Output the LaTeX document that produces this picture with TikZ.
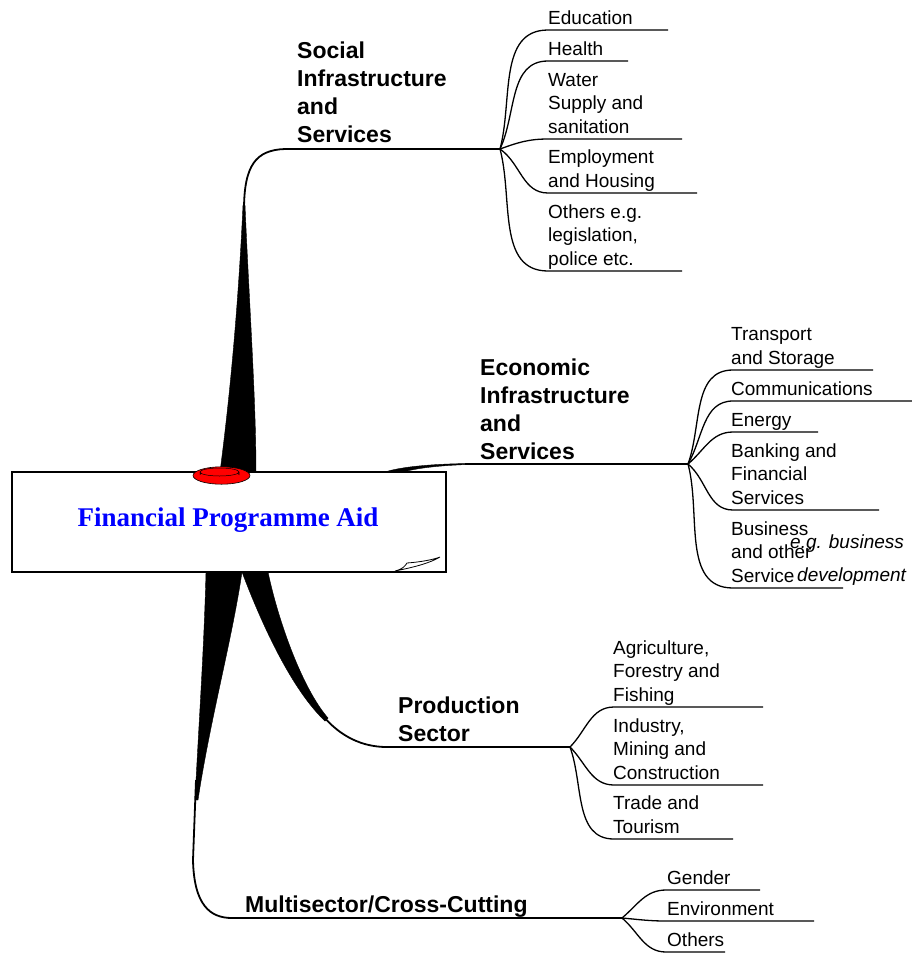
\documentclass[tikz,border=0pt]{standalone}
\usepackage{fontspec}
\setmainfont{Liberation Sans}
\newfontfamily\titlefont{Liberation Serif}
\tikzset{
  leaf/.style={anchor=base west, inner sep=0pt, align=left, font=\fontsize{19}{23.5}\selectfont},
  head/.style={anchor=base west, inner sep=0pt, align=left, font=\bfseries\fontsize{23}{28}\selectfont},
  twig/.style={line width=1.3pt},
  stem/.style={line width=1.8pt},
  wedge/.style={fill=black, draw=black, line width=0.4pt},
}
\begin{document}
\begin{tikzpicture}[x=1pt,y=-1pt]
  \useasboundingbox (0,0) rectangle (912,954);

  % hubs
  \coordinate (soc-in) at (285,149);
  \coordinate (soc) at (500,149);
  \coordinate (eco-in) at (465,464);
  \coordinate (eco) at (688,464);
  \coordinate (pro-in) at (385,747);
  \coordinate (pro) at (570,747);
  \coordinate (mul-in) at (232,918);
  \coordinate (mul) at (622,918);

  % thick branches, behind the box
  \fill[wedge] (220,472) .. controls (232,380) and (239,290) .. (243,205)
     -- (245,205) .. controls (249,300) and (256,400) .. (256,472) -- cycle;
  \draw[stem] (soc) -- (soc-in) .. controls (256,150) and (244,165) .. (244,210) -- (244,240);

  \fill[wedge] (385,472) .. controls (400,467) and (430,464) .. (468,463.5)
     -- (468,464.5) .. controls (440,465.5) and (415,468) .. (400,473) -- cycle;
  \draw[stem] (eco) -- (eco-in);

  \fill[wedge] (242,572) .. controls (262,625) and (292,690) .. (325,721)
     -- (328,718) .. controls (302,688) and (278,620) .. (268,572) -- cycle;
  \draw[stem] (pro) -- (pro-in) .. controls (315,745) and (290,665) .. (255,572);

  \fill[wedge] (206,572) .. controls (204,650) and (199,720) .. (195,800)
     -- (198,800) .. controls (210,720) and (232,640) .. (242,572) -- cycle;
  \draw[stem] (mul) -- (mul-in) .. controls (210,918) and (194,905) .. (193,860) -- (196,780);

  % the board
  \node[draw, line width=2pt, fill=white, minimum width=434pt, minimum height=100pt,
        inner sep=0pt] (board) at (229,522) {};
  \node[font=\titlefont\bfseries\fontsize{27}{32}\selectfont, text=blue] (title) at (228,520)
    {Financial Programme Aid};
  \filldraw[fill=red, line width=0.6pt] (221.5,475.5) ellipse [x radius=28.5, y radius=8.7];
  \filldraw[fill=red, line width=0.5pt] (200,472) -- (200,474.5) arc [start angle=180, end angle=360, x radius=19.5, y radius=4] -- (239,472);
  \filldraw[fill=red, line width=0.5pt] (219.5,472) ellipse [x radius=19.5, y radius=4];
  \filldraw[fill=white, line width=0.8pt] (395,571) .. controls (403,569) and (405,566) .. (407,563)
     .. controls (420,562) and (432,560) .. (440,557) .. controls (430,563) and (415,567) .. (395,571) -- cycle;

  % sector headings
  \node[head] (social) at (297,142) {Social\\Infrastructure\\and\\Services};
  \node[head] (economic) at (480,459) {Economic\\Infrastructure\\and\\Services};
  \node[head] (production) at (398,741) {Production\\Sector};
  \node[head] (multi) at (245,912) {Multisector/Cross-Cutting};

  % social fan
  \foreach \nm/\y/\xe/\o/\txt in {
      edu/30/668/75/Education,
      hea/61/628/65/Health,
      wat/139/682/20/{Water\\Supply and\\sanitation},
      emp/193/697/-35/{Employment\\and Housing},
      oth/271/682/-75/{Others e.g.\\legislation,\\police etc.}} {
    \coordinate (\nm) at (548,\y);
    \coordinate (\nm-e) at (\xe,\y);
    \draw[twig] (soc) to[out=\o,in=180] (\nm) -- (\nm-e);
    \node[leaf] (\nm-t) at (548,\y-6) {\txt};
  }

  % economic fan
  \foreach \nm/\y/\xe/\o/\txt in {
      trn/370/873/70/{Transport\\and Storage},
      com/401/912/60/Communications,
      ene/432/818/40/Energy,
      ban/510/879/-40/{Banking and\\Financial\\Services},
      bus/588/843/-75/{Business\\and other\\Service}} {
    \coordinate (\nm) at (733,\y);
    \coordinate (\nm-e) at (\xe,\y);
    \draw[twig] (eco) to[out=\o,in=180] (\nm) -- (\nm-e);
    \node[leaf] (\nm-t) at (731,\y-6) {\txt};
  }
  \node[leaf, font=\itshape\fontsize{19}{33}\selectfont] (eg) at (790,581)
    {e.g. business\\\hspace*{7pt}development};

  % production fan
  \foreach \nm/\y/\xe/\o/\txt in {
      agr/707/763/45/{Agriculture,\\Forestry and\\Fishing},
      ind/785/763/-45/{Industry,\\Mining and\\Construction},
      trd/839/733/-70/{Trade and\\Tourism}} {
    \coordinate (\nm) at (614,\y);
    \coordinate (\nm-e) at (\xe,\y);
    \draw[twig] (pro) to[out=\o,in=180] (\nm) -- (\nm-e);
    \node[leaf] (\nm-t) at (613,\y-6) {\txt};
  }

  % multisector fan
  \foreach \nm/\y/\xe/\o/\txt in {
      gen/890/760/40/Gender,
      env/921/814/-5/Environment,
      ot2/952/725/-40/Others} {
    \coordinate (\nm) at (666,\y);
    \coordinate (\nm-e) at (\xe,\y);
    \draw[twig] (mul) to[out=\o,in=180] (\nm) -- (\nm-e);
    \node[leaf] (\nm-t) at (667,\y-6) {\txt};
  }
\end{tikzpicture}
\end{document}
